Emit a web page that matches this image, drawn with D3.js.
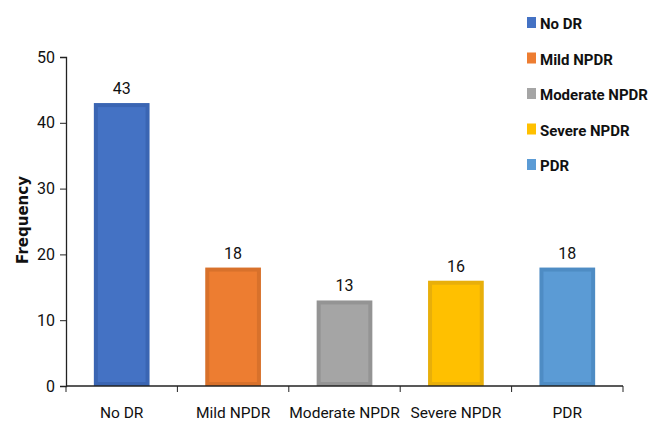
<!DOCTYPE html>
<html>
<head>
<meta charset="utf-8">
<script src="https://cdn.jsdelivr.net/npm/d3@7"></script>
<style>
  body { margin: 0; background: #fff; }
  text { font-family: Roboto, "Liberation Sans", sans-serif; }
</style>
</head>
<body>
<svg id="chart" width="648" height="423"></svg>
<script>
// chart data
const categories = ["No DR", "Mild NPDR", "Moderate NPDR", "Severe NPDR", "PDR"];
const frequency = [43, 18, 13, 16, 18];
const yTicks = [0, 10, 20, 30, 40, 50];
const fillColors = ["#4472C4", "#ED7D31", "#A5A5A5", "#FFC000", "#5B9BD5"];
const edgeColors = ["#3A65B3", "#D8712B", "#949494", "#E8AF0A", "#4E8CC4"];

const svg = d3.select("#chart");
const margin = { left: 66, right: 25, top: 57, bottom: 37 };
const width = 648 - margin.left - margin.right;
const height = 423 - margin.top - margin.bottom;

const g = svg.append("g").attr("transform", "translate(" + margin.left + "," + margin.top + ")");

const x = d3.scaleBand().domain(categories).range([0, width]).paddingInner(0.5).paddingOuter(0.25);
const y = d3.scaleLinear().domain([0, 50]).range([height, 0]);

// bars, darker edge + lighter inside
const bars = g.selectAll(".bar").data(categories).enter().append("g").attr("class", "bar");
bars.append("rect")
  .attr("x", d => x(d))
  .attr("y", (d, i) => y(frequency[i]))
  .attr("width", x.bandwidth())
  .attr("height", (d, i) => height - y(frequency[i]))
  .attr("fill", (d, i) => edgeColors[i]);
bars.append("rect")
  .attr("x", d => x(d) + 4)
  .attr("y", (d, i) => y(frequency[i]) + 4)
  .attr("width", x.bandwidth() - 8)
  .attr("height", (d, i) => Math.max(0, height - y(frequency[i]) - 8))
  .attr("fill", (d, i) => fillColors[i]);

// value labels
g.selectAll(".val").data(categories).enter().append("text")
  .attr("x", d => x(d) + x.bandwidth() / 2)
  .attr("y", (d, i) => y(frequency[i]) - 9)
  .attr("text-anchor", "middle")
  .attr("font-size", 16)
  .attr("fill", "#111")
  .text((d, i) => frequency[i]);

// y axis
const yAxis = g.append("g")
  .call(d3.axisLeft(y).tickValues(yTicks).tickSize(6).tickPadding(5));
yAxis.select(".domain").attr("stroke", "#222").attr("stroke-width", 1.3);
yAxis.selectAll(".tick line").attr("stroke", "#222");
yAxis.selectAll(".tick text").attr("font-size", 16).attr("fill", "#111")
  .style("font-family", "Roboto, sans-serif");

// x axis with ticks between the categories
const xAxis = g.append("g").attr("transform", "translate(0," + height + ")");
xAxis.append("line").attr("x1", 0).attr("x2", width).attr("stroke", "#222").attr("stroke-width", 1.3);
const bounds = d3.range(categories.length + 1).map(i => i * width / categories.length);
xAxis.selectAll(".xt").data(bounds).enter().append("line")
  .attr("x1", d => d).attr("x2", d => d)
  .attr("y1", 0).attr("y2", 6)
  .attr("stroke", "#222");
xAxis.selectAll(".xl").data(categories).enter().append("text")
  .attr("x", d => x(d) + x.bandwidth() / 2)
  .attr("y", 32)
  .attr("text-anchor", "middle")
  .attr("font-size", 15.5)
  .attr("fill", "#111")
  .text(d => d);

// y title
svg.append("text")
  .attr("transform", "translate(28,220) rotate(-90)")
  .attr("text-anchor", "middle")
  .attr("font-size", 15)
  .attr("font-weight", "bold")
  .style("font-family", "'DejaVu Sans', sans-serif")
  .attr("fill", "#111")
  .text("Frequency");

// legend
const legend = svg.append("g").attr("transform", "translate(527,17)");
const items = legend.selectAll(".leg").data(categories).enter().append("g")
  .attr("transform", (d, i) => "translate(0," + i * 35.5 + ")");
items.append("rect").attr("x", 0).attr("y", 0).attr("width", 9).attr("height", 11)
  .attr("fill", (d, i) => fillColors[i]);
items.append("text").attr("x", 13).attr("y", 12)
  .attr("font-size", 15)
  .attr("font-weight", "bold")
  .attr("fill", "#111")
  .text(d => d);
</script>
</body>
</html>
